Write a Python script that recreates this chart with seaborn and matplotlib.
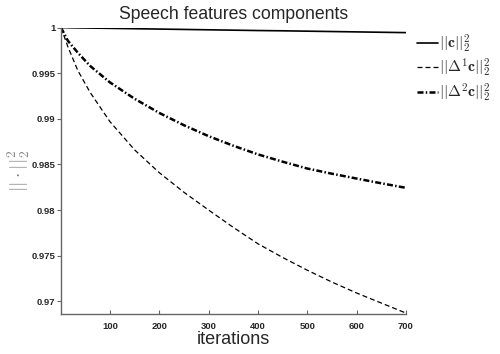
import matplotlib
matplotlib.use("Agg")
import matplotlib.pyplot as plt
import seaborn as sns
import pandas as pd

iterations = [1, 15, 35, 60, 100, 150, 200, 250, 300, 350, 400, 450, 500, 550, 600, 650, 700]
norm_c = [1.0, 0.99999, 0.99997, 0.99995, 0.99992, 0.99988, 0.99984, 0.99980, 0.99976,
          0.99972, 0.99968, 0.99965, 0.99961, 0.99957, 0.99953, 0.99949, 0.99945]
norm_d1 = [1.0, 0.9979, 0.9953, 0.9929, 0.9897, 0.9866, 0.9841, 0.98195, 0.9800,
           0.9781, 0.9763, 0.9748, 0.9734, 0.9721, 0.9709, 0.9698, 0.9687]
norm_d2 = [1.0, 0.99855, 0.99725, 0.9958, 0.9940, 0.9922, 0.99065, 0.9893, 0.9881,
           0.98705, 0.9861, 0.9853, 0.98455, 0.98398, 0.98345, 0.98293, 0.98243]

series_labels = [r"$||\mathbf{c}||_2^2$", r"$||\Delta^1\mathbf{c}||_2^2$", r"$||\Delta^2\mathbf{c}||_2^2$"]
x_ticks = [100, 200, 300, 400, 500, 600, 700]
y_ticks = [0.97, 0.975, 0.98, 0.985, 0.99, 0.995, 1.0]
y_tick_labels = ["0.97", "0.975", "0.98", "0.985", "0.99", "0.995", "1"]

sns.set_style("white")
plt.rcParams["font.family"] = ["Liberation Sans", "DejaVu Sans"]
plt.rcParams["mathtext.fontset"] = "cm"

n = len(iterations)
df = pd.DataFrame({
    "iterations": iterations * 3,
    "value": norm_c + norm_d1 + norm_d2,
    "series": [series_labels[0]] * n + [series_labels[1]] * n + [series_labels[2]] * n,
})

fig = plt.figure(figsize=(5.0, 3.54), dpi=100)
ax = fig.add_axes([0.122, 0.113, 0.690, 0.809])

styles = [("-", 1.2), ((0, (4, 2.4)), 0.9), ((0, (2.4, 0.9, 0.6, 0.9)), 1.8)]
for lab, (ls, lw) in zip(series_labels, styles):
    sub = df[df["series"] == lab]
    sns.lineplot(data=sub, x="iterations", y="value", ax=ax, color="black",
                 linestyle=ls, linewidth=lw, label=lab, legend=False)

ax.set_xlim(1, 700)
ax.set_ylim(0.9686, 1.0)
ax.set_xticks(x_ticks)
ax.set_xticklabels([str(t) for t in x_ticks], fontweight="bold", fontsize=6.8)
ax.set_yticks(y_ticks)
ax.set_yticklabels(y_tick_labels, fontweight="bold", fontsize=6.8)
ax.tick_params(axis="x", direction="in", length=3, pad=6, color="#666666", bottom=True)
ax.tick_params(axis="y", direction="out", length=3, pad=1, color="#666666", left=True)

for s in ["top", "right"]:
    ax.spines[s].set_visible(False)
for s in ["left", "bottom"]:
    ax.spines[s].set_color("#666666")
    ax.spines[s].set_linewidth(1.0)

ax.set_title("Speech features components", fontsize=12.7, pad=6)
ax.set_xlabel("iterations", fontsize=13, labelpad=0)
ax.set_ylabel(r"$||\cdot||_2^2$", fontsize=14, color="#888888")
ax.yaxis.set_label_coords(-0.084, 0.5)

ax.legend(loc="upper left", bbox_to_anchor=(1.015, 1.005), frameon=False,
          handlelength=1.3, handletextpad=0.1, fontsize=11.2, labelspacing=0.15,
          borderaxespad=0.0)

fig.savefig("out.png", dpi=100)
